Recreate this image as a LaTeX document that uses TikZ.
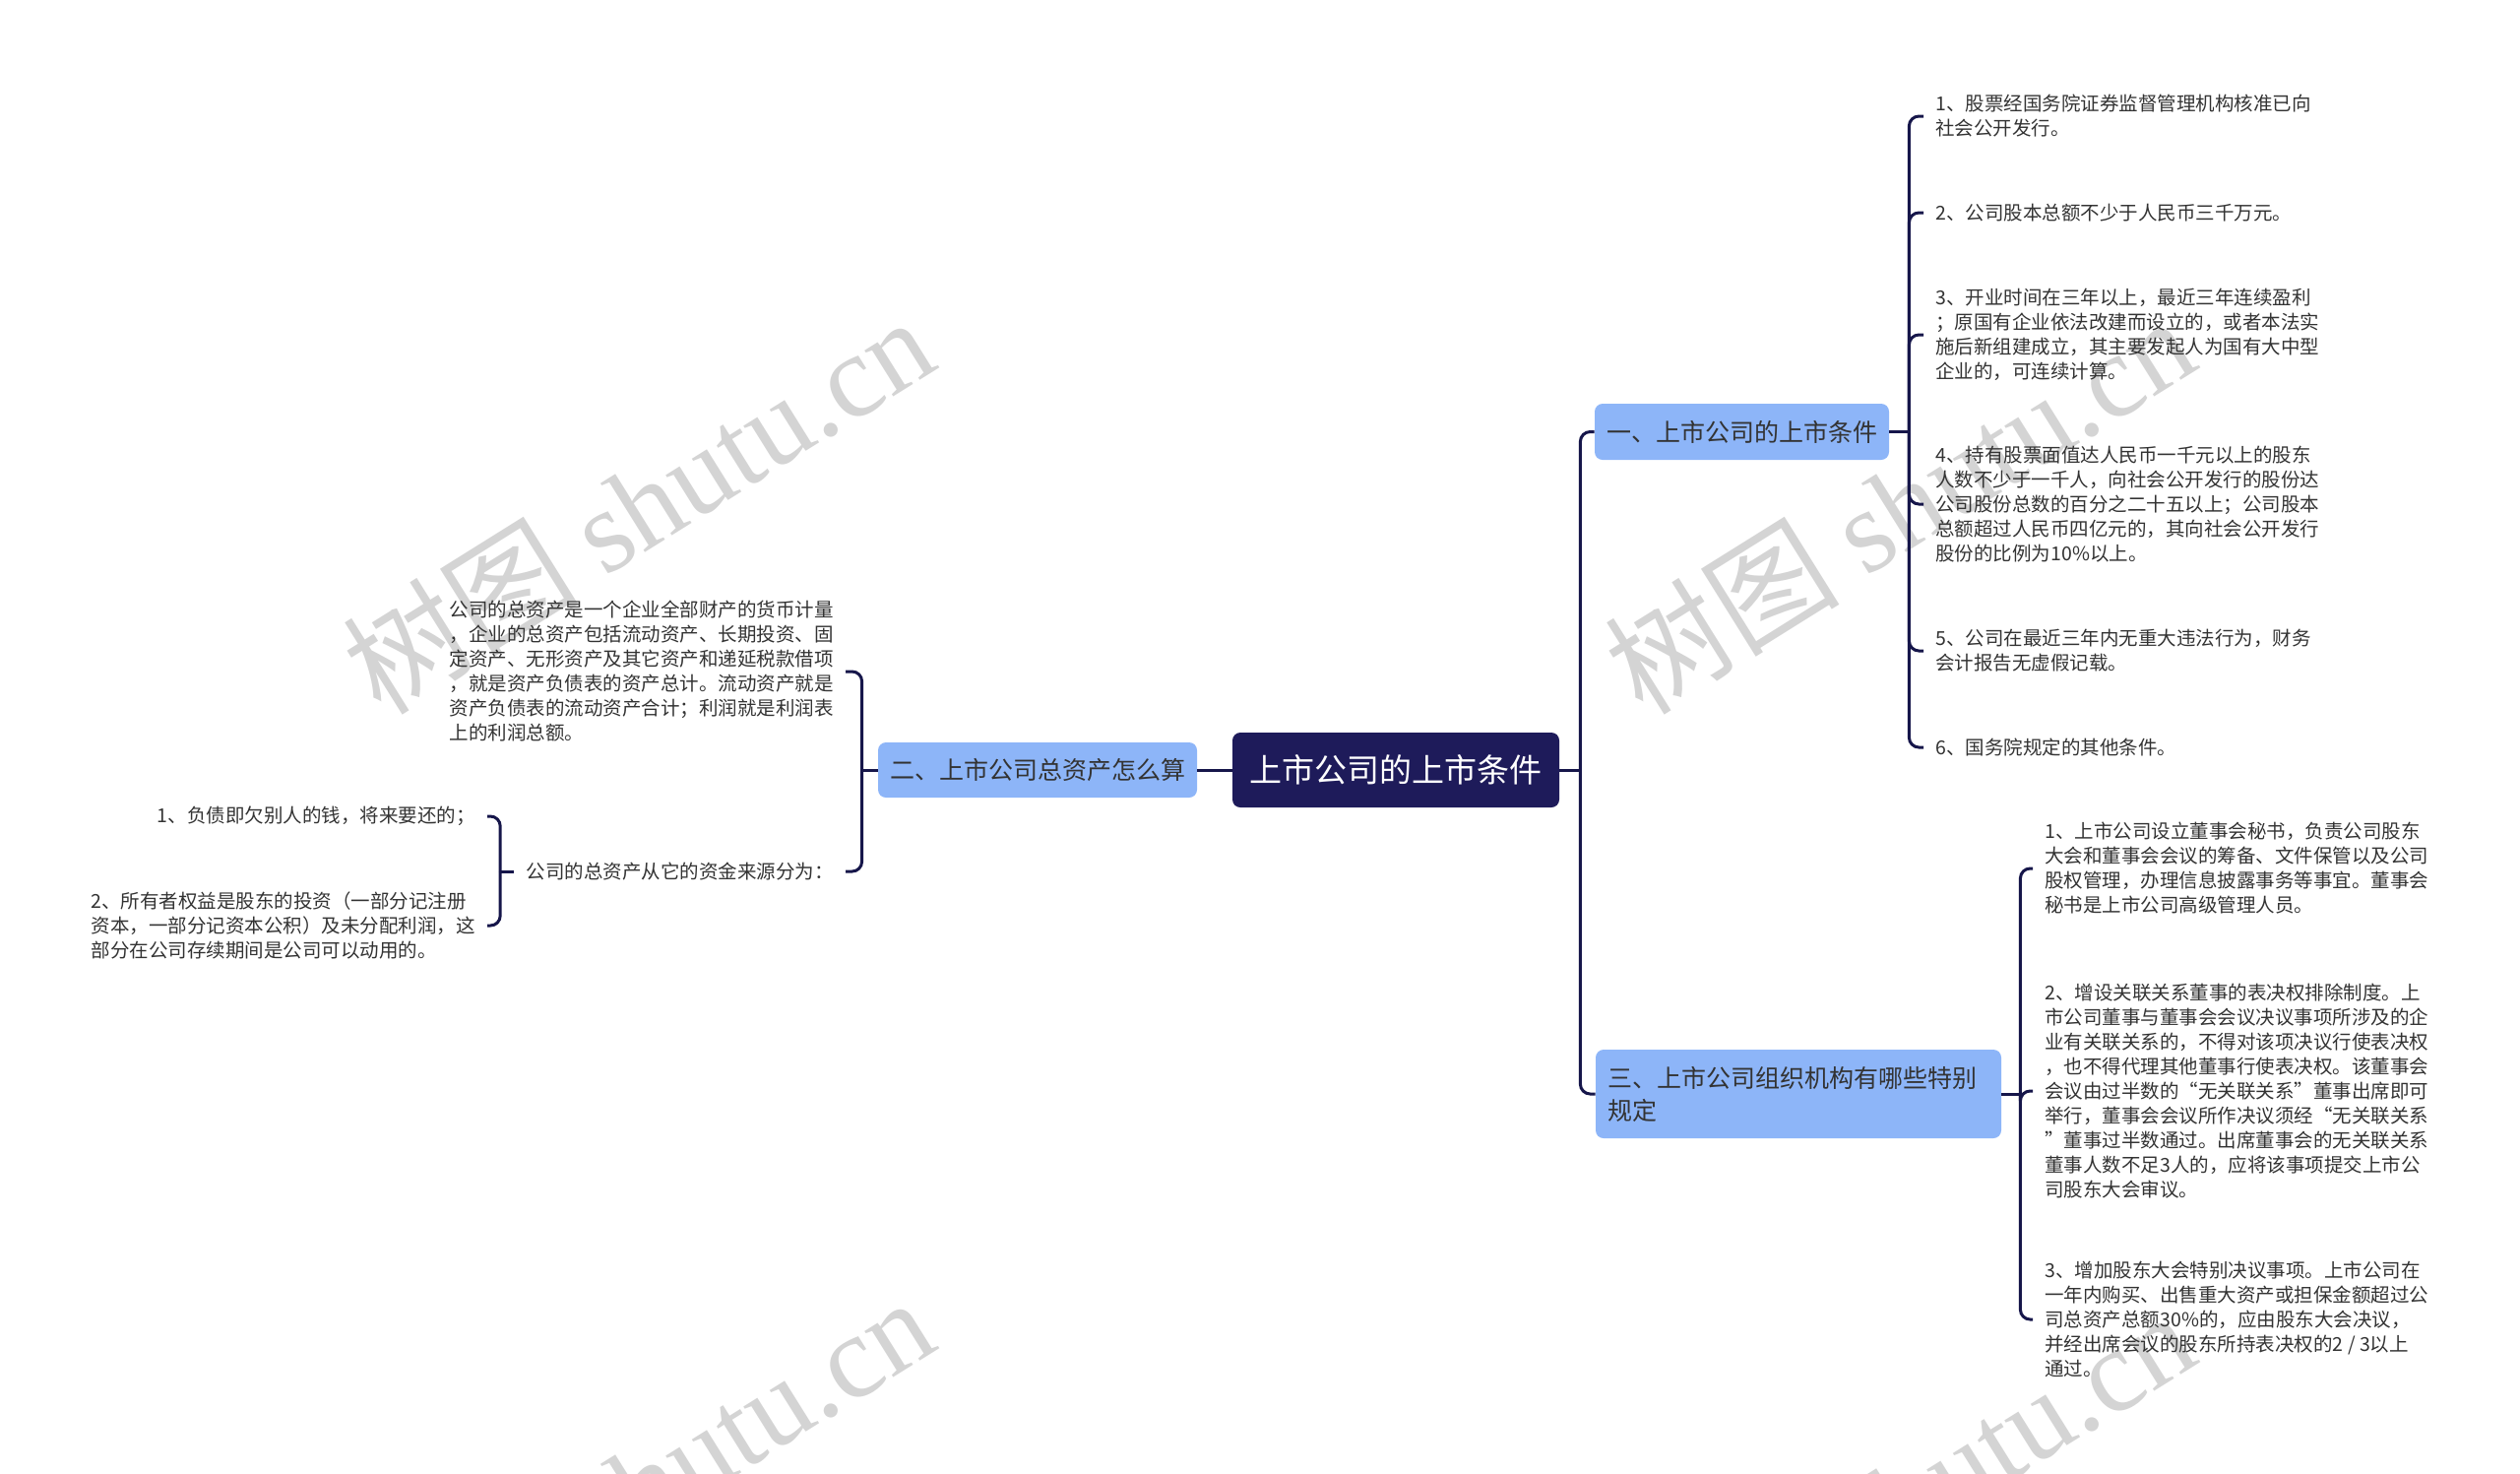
\documentclass[tikz,border=0pt]{standalone}
\usepackage{fontspec}
\setmainfont{Noto Sans CJK SC}
\newfontfamily\wmserif{Liberation Serif}
\usetikzlibrary{calc}
\definecolor{navy}{HTML}{1E1B5A}
\definecolor{linec}{HTML}{16164A}
\definecolor{boxblue}{HTML}{8DB5F8}
\definecolor{wmgray}{HTML}{D4D4D4}
\definecolor{txt}{HTML}{333333}
\begin{document}
\begin{tikzpicture}[x=0.5pt,y=-0.5pt,
  conn/.style={draw=linec, line width=1.5pt, rounded corners=5pt},
  rootbox/.style={fill=navy, rounded corners=4pt, text=white, font=\fontsize{16.5pt}{20pt}\selectfont, minimum width=166pt, minimum height=38pt, inner sep=0pt},
  topicbox/.style={fill=boxblue, rounded corners=4pt, text=txt, font=\fontsize{12.5pt}{16.5pt}\selectfont, inner xsep=6pt, inner ysep=0pt},
  leaf/.style={align=left, font=\fontsize{9.75pt}{12.5pt}\selectfont, text=txt, inner xsep=6pt, inner ysep=2pt},
  wmark/.style={text=wmgray, font=\fontsize{60pt}{66pt}\selectfont, rotate=32, inner sep=0pt},
]
\path[use as bounding box] (0,0) rectangle (2560,1496);
\clip (0,0) rectangle (2560,1496);

% watermarks
\node[wmark] (w1) at (648,512) {树图 {\wmserif shutu.cn}};
\node[wmark] (w2) at (1929,512) {树图 {\wmserif shutu.cn}};
\node[wmark] (w3) at (648,1508) {树图 {\wmserif shutu.cn}};
\node[wmark] (w4) at (1929,1522) {树图 {\wmserif shutu.cn}};

% main nodes
\node[rootbox] (root) at (1418,782) {上市公司的上市条件};
\node[topicbox, minimum width=148.5pt, minimum height=28.5pt] (t1) at (1769.5,438.5) {一、上市公司的上市条件};
\node[topicbox, minimum width=161pt, minimum height=28pt] (t2) at (1054,782) {二、上市公司总资产怎么算};
\node[topicbox, align=left, text width=194pt, minimum height=45pt] (t3) at (1827,1111) {三、上市公司组织机构有哪些特别\\规定};

% leaves of t1
\node[leaf, anchor=west] (a1) at (1954,118) {1、股票经国务院证券监督管理机构核准已向\\社会公开发行。};
\node[leaf, anchor=west] (a2) at (1954,216) {2、公司股本总额不少于人民币三千万元。};
\node[leaf, anchor=west] (a3) at (1954,340) {3、开业时间在三年以上，最近三年连续盈利\\；原国有企业依法改建而设立的，或者本法实\\施后新组建成立，其主要发起人为国有大中型\\企业的，可连续计算。};
\node[leaf, anchor=west] (a4) at (1954,512) {4、持有股票面值达人民币一千元以上的股东\\人数不少于一千人，向社会公开发行的股份达\\公司股份总数的百分之二十五以上；公司股本\\总额超过人民币四亿元的，其向社会公开发行\\股份的比例为10\%以上。};
\node[leaf, anchor=west] (a5) at (1954,661) {5、公司在最近三年内无重大违法行为，财务\\会计报告无虚假记载。};
\node[leaf, anchor=west] (a6) at (1954,759) {6、国务院规定的其他条件。};

% leaves of t3
\node[leaf, anchor=west] (b1) at (2065,882) {1、上市公司设立董事会秘书，负责公司股东\\大会和董事会会议的筹备、文件保管以及公司\\股权管理，办理信息披露事务等事宜。董事会\\秘书是上市公司高级管理人员。};
\node[leaf, anchor=west] (b2) at (2065,1108) {2、增设关联关系董事的表决权排除制度。上\\市公司董事与董事会会议决议事项所涉及的企\\业有关联关系的，不得对该项决议行使表决权\\，也不得代理其他董事行使表决权。该董事会\\会议由过半数的“无关联关系”董事出席即可\\举行，董事会会议所作决议须经“无关联关系\\”董事过半数通过。出席董事会的无关联关系\\董事人数不足3人的，应将该事项提交上市公\\司股东大会审议。};
\node[leaf, anchor=west] (b3) at (2065,1340) {3、增加股东大会特别决议事项。上市公司在\\一年内购买、出售重大资产或担保金额超过公\\司总资产总额30\%的，应由股东大会决议，\\并经出席会议的股东所持表决权的2 / 3以上\\通过。};

% leaves of t2
\node[leaf, anchor=east] (c1) at (859,682) {公司的总资产是一个企业全部财产的货币计量\\，企业的总资产包括流动资产、长期投资、固\\定资产、无形资产及其它资产和递延税款借项\\，就是资产负债表的资产总计。流动资产就是\\资产负债表的流动资产合计；利润就是利润表\\上的利润总额。};
\node[leaf, anchor=east] (c2) at (859,885) {公司的总资产从它的资金来源分为：};
\node[leaf, anchor=east] (g1) at (495,829) {1、负债即欠别人的钱，将来要还的；};
\node[leaf, anchor=east] (g2) at (495,940) {2、所有者权益是股东的投资（一部分记注册\\资本，一部分记资本公积）及未分配利润，这\\部分在公司存续期间是公司可以动用的。};

% connectors root -> t1, t3
\coordinate (s0) at ($(root.east)+(21,0)$);
\draw[conn] (root.east) -- (s0);
\draw[conn] (s0) |- (t1.west);
\draw[conn] (s0) |- (t3.west);
% root -> t2
\draw[conn] (root.west) -- (t2.east);

% t1 -> leaves
\coordinate (s3) at ($(t1.east)+(20,0)$);
\draw[conn] (t1.east) -- (s3);
\foreach \n in {a1,a2,a3,a4,a5,a6} \draw[conn] (s3) |- (\n.west);

% t3 -> leaves
\coordinate (s4) at ($(t3.east)+(19,0)$);
\draw[conn] (t3.east) -- (s4);
\foreach \n in {b1,b2,b3} \draw[conn] (s4) |- (\n.west);

% t2 -> leaves
\coordinate (s1) at ($(t2.west)+(-16,0)$);
\draw[conn] (t2.west) -- (s1);
\foreach \n in {c1,c2} \draw[conn] (s1) |- (\n.east);

% c2 -> leaves
\coordinate (s2) at ($(c2.west)+(-14,0)$);
\draw[conn] (c2.west) -- (s2);
\foreach \n in {g1,g2} \draw[conn] (s2) |- (\n.east);
\end{tikzpicture}
\end{document}
